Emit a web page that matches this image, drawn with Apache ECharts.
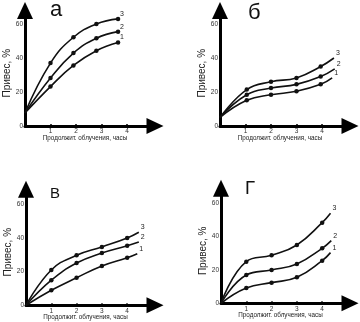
<!DOCTYPE html>
<html>
<head>
<meta charset="utf-8">
<script src="https://cdn.jsdelivr.net/npm/echarts@6/dist/echarts.min.js"></script>
<style>
html,body{margin:0;padding:0;background:#fff;}
#chart{width:360px;height:322px;}
</style>
</head>
<body>
<div id="chart"></div>
<script>
var FONT = 'Liberation Sans, Arial, sans-serif';
var panelNames = ['а', 'б', 'В', 'Г'];
var yTicks = [0, 20, 40, 60];
var xTicks = [1, 2, 3, 4];
var yName = 'Привес, %';
var xName = 'Продолжит. облучения, часы';

// panel a: start point, then marked points (hours), last point is a marker
var hoursA = [0, 1, 1.9, 2.8, 3.65];
var a1 = [7.7, 23.2, 35.6, 44.3, 49.1];
var a2 = [7.7, 28.2, 42.9, 51.6, 55.5];
var a3 = [7.7, 37.0, 52.2, 60.0, 63.0];
var endA = [null, null, null];

// panel b
var hoursB = [0, 1.05, 2, 3, 3.95];
var b1 = [5, 15.1, 18.4, 20.4, 24.5, 28.3];
var b2 = [5, 18.4, 22.3, 24.5, 29.1, 33.6];
var b3 = [5, 21.4, 26.0, 28.3, 35.0, 40.0];
var endB = [4.4, 4.5, 4.47];

// panel v
var hoursC = [0, 1, 2, 3, 4];
var c1 = [0, 8.9, 16.4, 23.4, 28.3, 30.7];
var c2 = [0, 14.9, 25.1, 31.1, 35.4, 37.6];
var c3 = [0, 21.0, 29.7, 34.7, 40.0, 43.4];
var endC = [4.4, 4.46, 4.46];

// panel g
var hoursD = [0, 1, 2, 3, 4];
var d1 = [0, 9.2, 12.4, 15.6, 25.6, 30.4];
var d2 = [0, 17.0, 20.0, 23.6, 33.0, 37.6];
var d3 = [0, 25.0, 28.8, 35.0, 48.4, 54.0];
var endD = [4.33, 4.36, 4.33];

var panels = [
	{hours: hoursA, curves: [a1, a2, a3], ends: endA, grid: {left: 25, top: 10.4, width: 130, height: 115.6}, xMax: 5.1, yMax: 68,
	 title: {x: 50, y: -1, size: 22}},
	{hours: hoursB, curves: [b1, b2, b3], ends: endB, grid: {left: 220, top: 10.4, width: 130, height: 115.6}, xMax: 5.1, yMax: 68,
	 title: {x: 248, y: 1.5, size: 22}},
	{hours: hoursC, curves: [c1, c2, c3], ends: endC, grid: {left: 26, top: 189.2, width: 129, height: 116.1}, xMax: 5.1, yMax: 69,
	 title: {x: 50, y: 186, size: 15}},
	{hours: hoursD, curves: [d1, d2, d3], ends: endD, grid: {left: 221, top: 188.3, width: 129, height: 115}, xMax: 5.1, yMax: 69,
	 title: {x: 245, y: 179, size: 18.5}}
];

var grids = [], xAxes = [], yAxes = [], series = [], titles = [];

panels.forEach(function (p, k) {
	grids.push(p.grid);
	titles.push({
		text: panelNames[k], left: p.title.x, top: p.title.y, padding: 0,
		textStyle: {fontFamily: FONT, fontSize: p.title.size, fontWeight: 'normal', color: '#111'}
	});
	xAxes.push({
		type: 'value', gridIndex: k, min: 0, max: p.xMax, interval: 1,
		name: xName, nameLocation: 'middle', nameGap: 9, nameMoveOverlap: false,
		nameTextStyle: {fontFamily: FONT, fontSize: 6.3, color: '#222', padding: [0, 10, 0, 0]},
		axisLine: {lineStyle: {color: '#000', width: 3}, symbol: ['none', 'triangle'], symbolSize: [16, 17]},
		axisTick: {show: true, inside: true, length: 2, lineStyle: {color: '#000', width: 1.5}},
		axisLabel: {fontFamily: FONT, fontSize: 6.5, color: '#333', margin: 2,
			formatter: function (v) { return xTicks.indexOf(v) >= 0 ? String(v) : ''; }},
		splitLine: {show: false}
	});
	yAxes.push({
		type: 'value', gridIndex: k, min: 0, max: p.yMax, interval: 20,
		name: yName, nameLocation: 'middle', nameGap: 13, nameMoveOverlap: false,
		nameTextStyle: {fontFamily: FONT, fontSize: 10, color: '#222', padding: [0, 10, 0, 0]},
		axisLine: {lineStyle: {color: '#000', width: 3}, symbol: ['none', 'triangle'], symbolSize: [16, 17]},
		axisTick: {show: true, inside: true, length: 2, lineStyle: {color: '#000', width: 1.5}},
		axisLabel: {fontFamily: FONT, fontSize: 6.5, color: '#333', margin: 2,
			formatter: function (v) { return yTicks.indexOf(v) >= 0 ? String(v) : ''; }},
		splitLine: {show: false}
	});
	p.curves.forEach(function (vals, j) {
		var data = p.hours.map(function (h, i) {
			var item = {value: [h, vals[i]]};
			if (i === 0) item.symbol = 'none';
			return item;
		});
		if (p.ends[j] !== null) {
			data.push({value: [p.ends[j], vals[vals.length - 1]], symbol: 'none'});
		}
		series.push({
			type: 'line', xAxisIndex: k, yAxisIndex: k, data: data,
			smooth: 0.45, symbol: 'circle', symbolSize: 4.5,
			lineStyle: {color: '#111', width: 1.6},
			itemStyle: {color: '#111'},
			endLabel: {show: true, formatter: String(j + 1), fontFamily: FONT, fontSize: 7, color: '#222', distance: 2, offset: [0, -5]},
			animation: false
		});
	});
});

var chart = echarts.init(document.getElementById('chart'));
chart.setOption({
	animation: false,
	backgroundColor: '#fff',
	title: titles,
	grid: grids,
	xAxis: xAxes,
	yAxis: yAxes,
	series: series
});
</script>
</body>
</html>
